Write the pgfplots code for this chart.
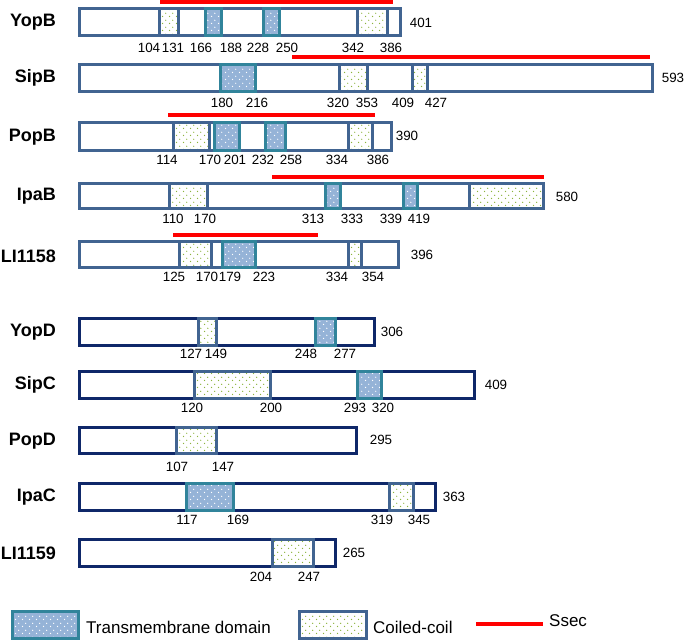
\documentclass[border=0pt]{standalone}
\usepackage{pgfplots}
\pgfplotsset{compat=1.18}
\usepackage{fontspec}
\setmainfont{Liberation Sans}
\usetikzlibrary{patterns.meta}
\definecolor{boxA}{HTML}{416491}
\definecolor{boxB}{HTML}{0F2869}
\definecolor{tmfill}{HTML}{95B3D7}
\definecolor{tmedge}{HTML}{31849B}
\definecolor{ccdot}{HTML}{8CB43C}
\definecolor{ssec}{HTML}{FF0000}
\tikzdeclarepattern{
  name=sparsedots,
  type=uncolored,
  bottom left={(0bp,0bp)}, top right={(7bp,7bp)},
  tile size={(7bp,7bp)},
  code={\fill (1.75bp,1.75bp) circle (0.75bp); \fill (5.25bp,5.25bp) circle (0.75bp);}
}
\newcommand{\rect}[5]{\addplot[#5] coordinates {(#1,#3) (#2,#3) (#2,#4) (#1,#4)} -- cycle;}
\begin{document}
\begin{tikzpicture}[
  protA/.style={draw=boxA, fill=white, line width=3.4bp},
  protB/.style={draw=boxB, fill=white, line width=3.4bp},
  tm/.style={preaction={fill=tmfill}, pattern=sparsedots, pattern color=white, draw=tmedge, line width=3.4bp},
  ccA/.style={preaction={fill=white}, pattern=sparsedots, pattern color=ccdot, draw=boxA, line width=3.4bp},
  ss/.style={draw=ssec, line width=3.6bp},
  num/.style={font=\fontsize{13.4bp}{14bp}\selectfont, inner sep=0pt},
  name/.style={font=\fontsize{18bp}{20bp}\selectfont\bfseries, inner sep=0pt, anchor=east},
  leg/.style={font=\fontsize{17bp}{19bp}\selectfont, inner sep=0pt, anchor=west}
]
\begin{axis}[
  width=685bp, height=641bp, scale only axis,
  xmin=0, xmax=685, ymin=0, ymax=641, y dir=reverse,
  hide axis, clip=false, no markers, line join=miter
]
% ---------- YopB ----------
\rect{79.5}{400.5}{8.5}{35.5}{protA}
\rect{159.5}{178.5}{8.5}{35.5}{ccA}
\rect{205.5}{221.5}{8.5}{35.5}{tm}
\rect{263.5}{279.5}{8.5}{35.5}{tm}
\rect{357.5}{387.5}{8.5}{35.5}{ccA}
\addplot[ss] coordinates {(160,2) (393,2)};
% ---------- SipB ----------
\rect{79.5}{652.5}{64.5}{91.5}{protA}
\rect{220.5}{255.5}{64.5}{91.5}{tm}
\rect{339.5}{367.5}{64.5}{91.5}{ccA}
\rect{412.5}{427.5}{64.5}{91.5}{ccA}
\addplot[ss] coordinates {(292,57) (650,57)};
% ---------- PopB ----------
\rect{79.5}{391.5}{122.5}{150.5}{protA}
\rect{173.5}{209.5}{122.5}{150.5}{ccA}
\rect{214.5}{239.5}{122.5}{150.5}{tm}
\rect{265.5}{285.5}{122.5}{150.5}{tm}
\rect{348.5}{372.5}{122.5}{150.5}{ccA}
\addplot[ss] coordinates {(168,115) (375,115)};
% ---------- IpaB ----------
\rect{79.5}{543.5}{183.5}{208.5}{protA}
\rect{169.5}{207.5}{183.5}{208.5}{ccA}
\rect{325.5}{340.5}{183.5}{208.5}{tm}
\rect{403.5}{417.5}{183.5}{208.5}{tm}
\rect{469.5}{543.5}{183.5}{208.5}{ccA}
\addplot[ss] coordinates {(272,177) (544,177)};
% ---------- LI1158 ----------
\rect{79.5}{398.5}{241.5}{267.5}{protA}
\rect{179.5}{211.5}{241.5}{267.5}{ccA}
\rect{222.5}{255.5}{241.5}{267.5}{tm}
\rect{348.5}{361.5}{241.5}{267.5}{ccA}
\addplot[ss] coordinates {(173,235) (318,235)};
% ---------- YopD ----------
\rect{79.5}{374.5}{318.5}{345.5}{protB}
\rect{198.5}{216.5}{318.5}{345.5}{ccA}
\rect{315.5}{335.5}{318.5}{345.5}{tm}
% ---------- SipC ----------
\rect{79.5}{474.5}{371.5}{398.5}{protB}
\rect{194.5}{270.5}{371.5}{398.5}{ccA}
\rect{357.5}{381.5}{371.5}{398.5}{tm}
% ---------- PopD ----------
\rect{79.5}{356.5}{427.5}{453.5}{protB}
\rect{176.5}{216.5}{427.5}{453.5}{ccA}
% ---------- IpaC ----------
\rect{79.5}{435.5}{483.5}{510.5}{protB}
\rect{186.5}{233.5}{483.5}{510.5}{tm}
\rect{389.5}{413.5}{483.5}{510.5}{ccA}
% ---------- LI1159 ----------
\rect{79.5}{335.5}{539.5}{566.5}{protB}
\rect{272.5}{313.5}{539.5}{566.5}{ccA}
% ---------- legend ----------
\rect{12.5}{78.5}{611.5}{638.5}{tm}
\rect{299.5}{366.5}{611.5}{638.5}{ccA}
\addplot[ss] coordinates {(476,624) (543,624)};

% names
\node[name] at (axis cs:56,22) {YopB};
\node[name] at (axis cs:56,78) {SipB};
\node[name] at (axis cs:56,137) {PopB};
\node[name] at (axis cs:56,196) {IpaB};
\node[name] at (axis cs:56,256) {LI1158};
\node[name] at (axis cs:56,332) {YopD};
\node[name] at (axis cs:56,385) {SipC};
\node[name] at (axis cs:56,441) {PopD};
\node[name] at (axis cs:56,497) {IpaC};
\node[name] at (axis cs:56,553) {LI1159};

% numbers YopB
\foreach \x/\t in {149/104,173/131,201/166,231/188,258/228,287/250,353/342,391/386}
  {\edef\tmp{\noexpand\node[num] at (axis cs:\x,48) {\t};}\tmp}
\node[num] at (axis cs:421,23) {401};
% SipB
\foreach \x/\t in {222/180,257/216,338/320,367/353,403/409,436/427}
  {\edef\tmp{\noexpand\node[num] at (axis cs:\x,103) {\t};}\tmp}
\node[num] at (axis cs:673,78) {593};
% PopB
\foreach \x/\t in {167/114,210/170,235/201,263/232,291/258,337/334,378/386}
  {\edef\tmp{\noexpand\node[num] at (axis cs:\x,160) {\t};}\tmp}
\node[num] at (axis cs:407,136) {390};
% IpaB
\foreach \x/\t in {173/110,205/170,313/313,352/333,391/339,419/419}
  {\edef\tmp{\noexpand\node[num] at (axis cs:\x,219) {\t};}\tmp}
\node[num] at (axis cs:567,197) {580};
% LI1158
\foreach \x/\t in {174/125,207/170,230/179,264/223,337/334,373/354}
  {\edef\tmp{\noexpand\node[num] at (axis cs:\x,277) {\t};}\tmp}
\node[num] at (axis cs:422,255) {396};
% YopD
\foreach \x/\t in {191/127,216/149,306/248,345/277}
  {\edef\tmp{\noexpand\node[num] at (axis cs:\x,354) {\t};}\tmp}
\node[num] at (axis cs:392,332) {306};
% SipC
\foreach \x/\t in {192/120,271/200,355/293,383/320}
  {\edef\tmp{\noexpand\node[num] at (axis cs:\x,408) {\t};}\tmp}
\node[num] at (axis cs:496,385) {409};
% PopD
\foreach \x/\t in {177/107,223/147}
  {\edef\tmp{\noexpand\node[num] at (axis cs:\x,467) {\t};}\tmp}
\node[num] at (axis cs:381,440) {295};
% IpaC
\foreach \x/\t in {187/117,238/169,382/319,419/345}
  {\edef\tmp{\noexpand\node[num] at (axis cs:\x,520) {\t};}\tmp}
\node[num] at (axis cs:454,497) {363};
% LI1159
\foreach \x/\t in {261/204,309/247}
  {\edef\tmp{\noexpand\node[num] at (axis cs:\x,577) {\t};}\tmp}
\node[num] at (axis cs:354,553) {265};

% legend texts
\node[leg] at (axis cs:86,627) {Transmembrane domain};
\node[leg] at (axis cs:373,627) {Coiled-coil};
\node[leg] at (axis cs:549,621) {Ssec};
\end{axis}
\pgfresetboundingbox
\useasboundingbox (current axis.south west) rectangle (current axis.north east);
\end{tikzpicture}
\end{document}
